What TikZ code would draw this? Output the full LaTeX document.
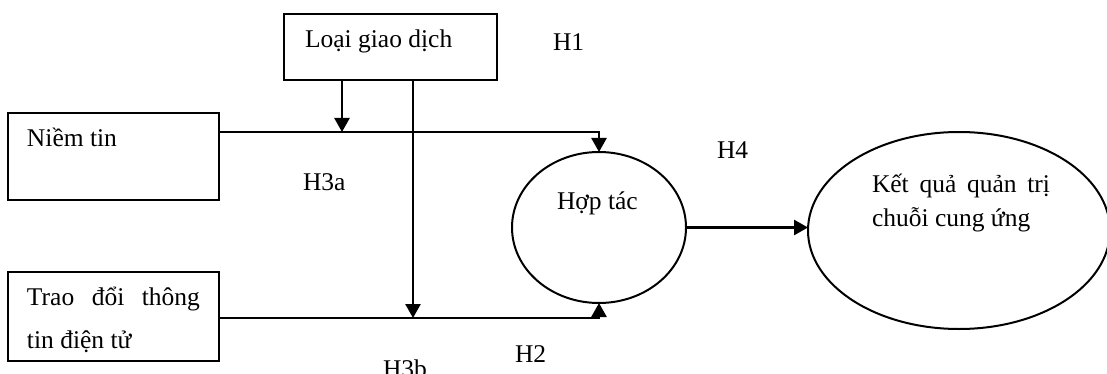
\documentclass[tikz,border=0pt]{standalone}
\usepackage{fontspec}
\setmainfont{Liberation Serif}
\usetikzlibrary{arrows.meta,shapes.geometric}
\begin{document}
\begin{tikzpicture}[x=1pt,y=-1pt,
  every node/.style={inner sep=0pt,outer sep=0pt},
  boxnode/.style={draw,line width=2pt,rectangle},
  ellnode/.style={draw,line width=2pt,ellipse},
  txt/.style={anchor=base west,font=\fontsize{25.5}{33}\selectfont},
  conn/.style={line width=2.6pt},
  arr/.style={conn,-{Triangle[length=14pt,width=15pt]}}]
\useasboundingbox (0,0) rectangle (1107,374);
% shapes
\node[boxnode,minimum width=213pt,minimum height=66pt] (lgd) at (390.5,47) {};
\node[boxnode,minimum width=211pt,minimum height=87pt] (nt) at (113.5,156.5) {};
\node[boxnode,minimum width=211pt,minimum height=89pt] (td) at (113.5,316.5) {};
\node[ellnode,minimum width=174pt,minimum height=151pt] (ht) at (599,227.5) {};
\node[ellnode,minimum width=302pt,minimum height=197pt] (kq) at (959,230.5) {};
% texts
\node[txt] (tlgd) at (305,48) {Loại giao dịch};
\node[txt] (tnt) at (27,147) {Niềm tin};
\node[txt] (ttd1) at (27,305) {\makebox[173pt][s]{Trao đổi thông}};
\node[txt] (ttd2) at (27,348) {tin điện tử};
\node[txt] (tht) at (557,209) {Hợp tác};
\node[txt] (tkq1) at (872,193) {\makebox[178pt][s]{Kết quả quản trị}};
\node[txt] (tkq2) at (872,226) {chuỗi cung ứng};
\node[txt] (h1) at (553,51) {H1};
\node[txt] (h3a) at (303,190) {H3a};
\node[txt] (h4) at (717,159) {H4};
\node[txt] (h2) at (515,362) {H2};
\node[txt] (h3b) at (383,377) {H3b};
% junction coordinates
\coordinate (j1) at (342,132);
\coordinate (c1) at (599,132);
\coordinate (j2) at (413,318);
\coordinate (c2) at (599,318);
% connectors
\draw[arr] (nt.east |- j1) -- (c1) -- (ht.north);
\draw[arr] (lgd.south -| j1) -- (j1);
\draw[arr] (lgd.south -| j2) -- (j2);
\draw[arr] (td.east |- j2) -- (c2) -- (ht.south);
\draw[arr] (ht.east) -- (ht.east -| kq.west);
\end{tikzpicture}
\end{document}
